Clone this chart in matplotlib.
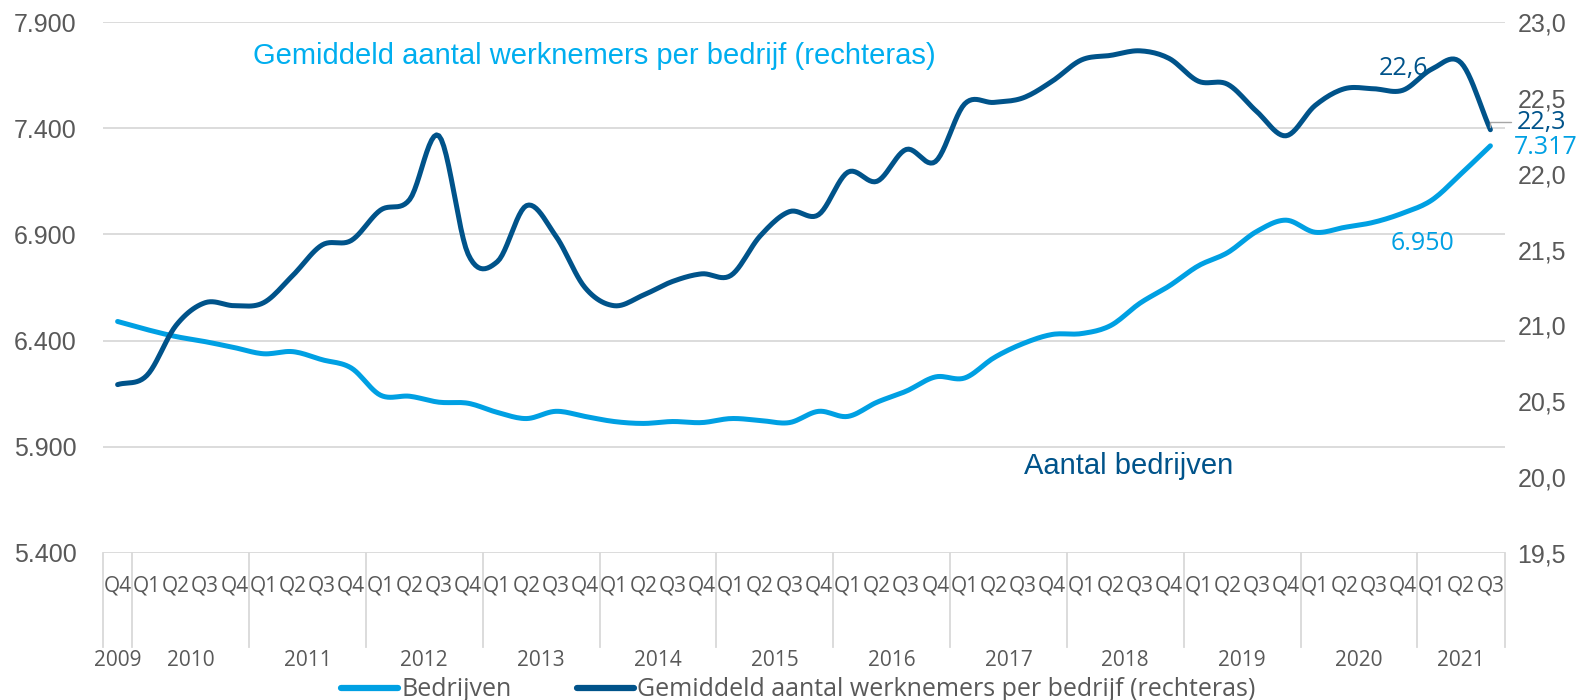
import numpy as np
import matplotlib
matplotlib.use("Agg")
from matplotlib import pyplot as plt
from matplotlib.ticker import FuncFormatter

# quarters 2009Q4 .. 2021Q3
quarters = ["Q4"] + ["Q1", "Q2", "Q3", "Q4"] * 11 + ["Q1", "Q2", "Q3"]
years = ["2009"] + [str(y) for y in range(2010, 2021)] + ["2021"]

bedrijven = [6490, 6452, 6419, 6395, 6367, 6338, 6348, 6310, 6271, 6143,
             6138, 6110, 6105, 6062, 6033, 6067, 6043, 6019, 6010, 6019,
             6014, 6033, 6024, 6014, 6067, 6043, 6110, 6162, 6229, 6224,
             6319, 6386, 6429, 6433, 6471, 6576, 6657, 6752, 6814, 6914,
             6967, 6910, 6933, 6957, 7000, 7062, 7186, 7317]

werknemers = [20.61, 20.67, 21.00, 21.15, 21.13, 21.15, 21.33, 21.53, 21.56, 21.76,
              21.83, 22.25, 21.47, 21.42, 21.79, 21.59, 21.25, 21.13, 21.20, 21.29,
              21.34, 21.33, 21.59, 21.75, 21.73, 22.01, 21.95, 22.16, 22.08, 22.46,
              22.47, 22.50, 22.61, 22.75, 22.78, 22.81, 22.76, 22.61, 22.59, 22.41,
              22.25, 22.45, 22.56, 22.56, 22.55, 22.69, 22.73, 22.29]

LIGHT = "#00A0E3"
DARK = "#00538A"
GREY = "#595959"
TICKFONT = "Liberation Sans"
CATFONT = "Open Sans"


def smooth(x, y, n=12):
    # catmull-rom curve through the points, like Excel's smoothed line
    x = np.asarray(x, float)
    y = np.asarray(y, float)
    px = np.concatenate([[2 * x[0] - x[1]], x, [2 * x[-1] - x[-2]]])
    py = np.concatenate([[2 * y[0] - y[1]], y, [2 * y[-1] - y[-2]]])
    xs, ys = [], []
    t = np.linspace(0, 1, n, endpoint=False)
    for i in range(1, len(px) - 2):
        for p, out in ((px, xs), (py, ys)):
            p0, p1, p2, p3 = p[i - 1], p[i], p[i + 1], p[i + 2]
            out.extend(0.5 * (2 * p1 + (-p0 + p2) * t
                              + (2 * p0 - 5 * p1 + 4 * p2 - p3) * t ** 2
                              + (-p0 + 3 * p1 - 3 * p2 + p3) * t ** 3))
    xs.append(x[-1])
    ys.append(y[-1])
    return np.array(xs), np.array(ys)


fig = plt.figure(figsize=(15.87, 7.0), dpi=100)
ax = fig.add_axes([103 / 1587, 1 - 553 / 700, (1505 - 103) / 1587, (553 - 22) / 700])
ax2 = ax.twinx()

x = np.arange(len(bedrijven))
sx, sy = smooth(x, bedrijven)
l1, = ax.plot(sx, sy, color=LIGHT, lw=3.6, solid_capstyle="round", zorder=3)
sx2, sy2 = smooth(x, werknemers)
l2, = ax2.plot(sx2, sy2, color=DARK, lw=3.6, solid_capstyle="round", zorder=3)

ax.set_xlim(-0.5, len(bedrijven) - 0.5)
ax.set_ylim(5400, 7900)
ax2.set_ylim(19.5, 23.0)
ax.set_yticks(np.arange(5400, 7901, 500))
ax2.set_yticks(np.arange(19.5, 23.01, 0.5))
ax.yaxis.set_major_formatter(FuncFormatter(lambda v, p: f"{v:,.0f}".replace(",", ".")))
ax2.yaxis.set_major_formatter(FuncFormatter(lambda v, p: f"{v:.1f}".replace(".", ",")))

ax.grid(axis="y", color="#D9D9D9", lw=1.3)
ax.set_axisbelow(True)
for a in (ax, ax2):
    for s in ("top", "left", "right", "bottom"):
        a.spines[s].set_visible(False)
ax.tick_params(axis="y", length=0, pad=19, labelsize=18, labelcolor=GREY)
ax2.tick_params(axis="y", length=0, pad=9, labelsize=18, labelcolor=GREY)
for lab in ax.get_yticklabels() + ax2.get_yticklabels():
    lab.set_fontfamily(TICKFONT)

# category axis: quarter labels and year groups
ax.set_xticks(x)
ax.set_xticklabels(quarters, fontsize=15, color=GREY, fontfamily=CATFONT)
ax.tick_params(axis="x", length=0, pad=16)

bounds = [0, 1] + list(range(5, 46, 4)) + [48]
for b in bounds:
    ax.plot([b - 0.5, b - 0.5], [0, -0.177], transform=ax.get_xaxis_transform(),
            color="#D9D9D9", lw=1.3, clip_on=False)
for i, yr in enumerate(years):
    centre = (bounds[i] + bounds[i + 1] - 1) / 2
    ax.text(centre, -0.203, yr, transform=ax.get_xaxis_transform(), ha="center",
            va="center", fontsize=15, color=GREY, fontfamily=CATFONT)

# text annotations
fig.text(253 / 1587, 1 - 56 / 700, "Gemiddeld aantal werknemers per bedrijf (rechteras)",
         color="#00AEEF", fontsize=21, fontfamily="Liberation Sans", va="center")
fig.text(1024 / 1587, 1 - 466 / 700, "Aantal bedrijven", color=DARK, fontsize=21,
         fontfamily="Liberation Sans", va="center")

# data labels
ax2.annotate("22,6", (43, werknemers[43]), xytext=(1403 / 1587, 1 - 69 / 700),
             textcoords="figure fraction", ha="center", va="center",
             color=DARK, fontsize=18, fontfamily=CATFONT)
ax2.annotate("22,3", (47, werknemers[47]), xytext=(1541 / 1587, 1 - 122 / 700),
             textcoords="figure fraction", ha="center", va="center",
             color=DARK, fontsize=18, fontfamily=CATFONT,
             arrowprops=dict(arrowstyle="-", color="#A6A6A6", lw=1,
                             connectionstyle="angle,angleA=0,angleB=90", shrinkB=2))
ax.annotate("7.317", (47, bedrijven[47]), xytext=(1546 / 1587, 1 - 147 / 700),
            textcoords="figure fraction", ha="center", va="center",
            color=LIGHT, fontsize=18, fontfamily=CATFONT)
ax.annotate("6.950", (43, 6957), xytext=(1423 / 1587, 1 - 243 / 700),
            textcoords="figure fraction", ha="center", va="center",
            color=LIGHT, fontsize=18, fontfamily=CATFONT)

leg = fig.legend([l1, l2], ["Bedrijven", "Gemiddeld aantal werknemers per bedrijf (rechteras)"],
                 loc="center", bbox_to_anchor=(0.503, 1 - 690 / 700), ncol=2, frameon=False,
                 handlelength=2.3, handletextpad=0.12, columnspacing=2.6,
                 prop={"family": CATFONT, "size": 18})
for t in leg.get_texts():
    t.set_color(GREY)
for h in leg.get_lines():
    h.set_linewidth(4.5)

fig.savefig("out.png", dpi=100)
